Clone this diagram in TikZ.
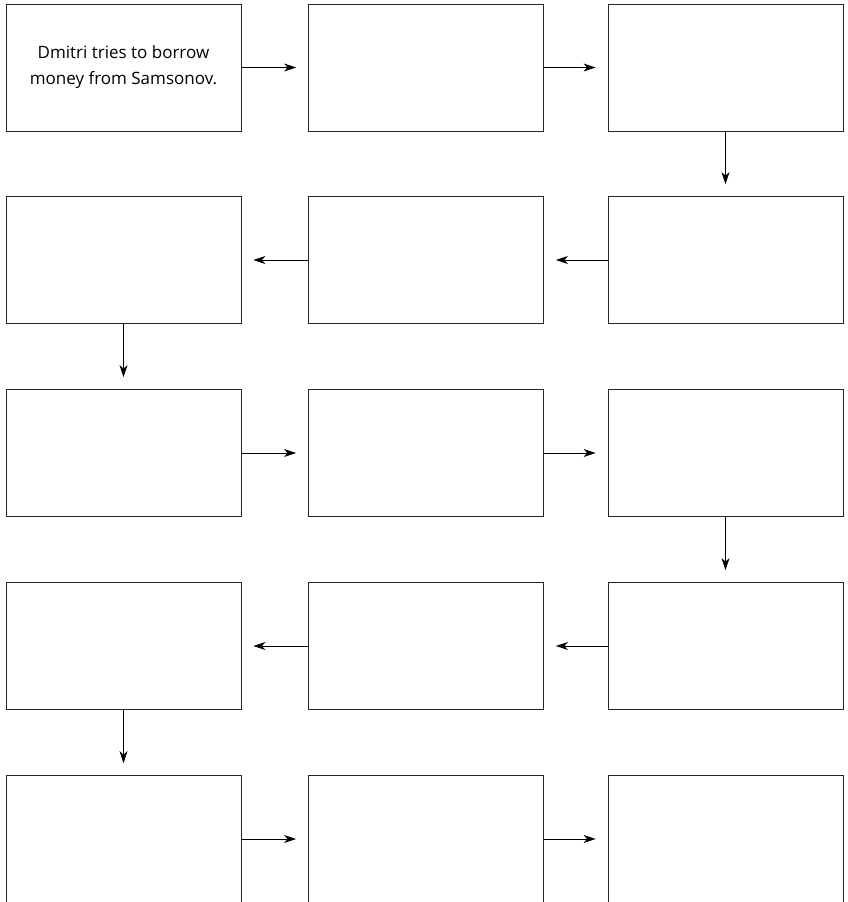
\documentclass[tikz,border=0pt]{standalone}
\usepackage{fontspec}
\setmainfont{Open Sans}
\usetikzlibrary{arrows.meta}
\tikzset{
  card/.style={draw=black!85, line width=0.8pt, fill=white, minimum width=235pt, minimum height=127pt, inner sep=0pt, align=center, font=\fontsize{17}{26}\selectfont},
  flow/.style={draw=black, line width=0.9pt, -{Stealth[length=12pt,width=8pt,inset=3.5pt]}, shorten >=12pt}
}
\begin{document}
\begin{tikzpicture}[x=1pt,y=-1pt]
\useasboundingbox (0,0) rectangle (847,902);
\clip (0,0) rectangle (847,902);
\node[card] (b1) at (123.5,67.5) {Dmitri tries to borrow\\money from Samsonov.};
\node[card] (b2) at (426,67.5) {};
\node[card] (b3) at (725.5,67.5) {};
\node[card] (b4) at (725.5,260) {};
\node[card] (b5) at (426,260) {};
\node[card] (b6) at (123.5,260) {};
\node[card] (b7) at (123.5,453) {};
\node[card] (b8) at (426,453) {};
\node[card] (b9) at (725.5,453) {};
\node[card] (b10) at (725.5,646) {};
\node[card] (b11) at (426,646) {};
\node[card] (b12) at (123.5,646) {};
\node[card] (b13) at (123.5,839) {};
\node[card] (b14) at (426,839) {};
\node[card] (b15) at (725.5,839) {};
\draw[flow] (b1) -- (b2);
\draw[flow] (b2) -- (b3);
\draw[flow] (b3) -- (b4);
\draw[flow] (b4) -- (b5);
\draw[flow] (b5) -- (b6);
\draw[flow] (b6) -- (b7);
\draw[flow] (b7) -- (b8);
\draw[flow] (b8) -- (b9);
\draw[flow] (b9) -- (b10);
\draw[flow] (b10) -- (b11);
\draw[flow] (b11) -- (b12);
\draw[flow] (b12) -- (b13);
\draw[flow] (b13) -- (b14);
\draw[flow] (b14) -- (b15);
\end{tikzpicture}
\end{document}
